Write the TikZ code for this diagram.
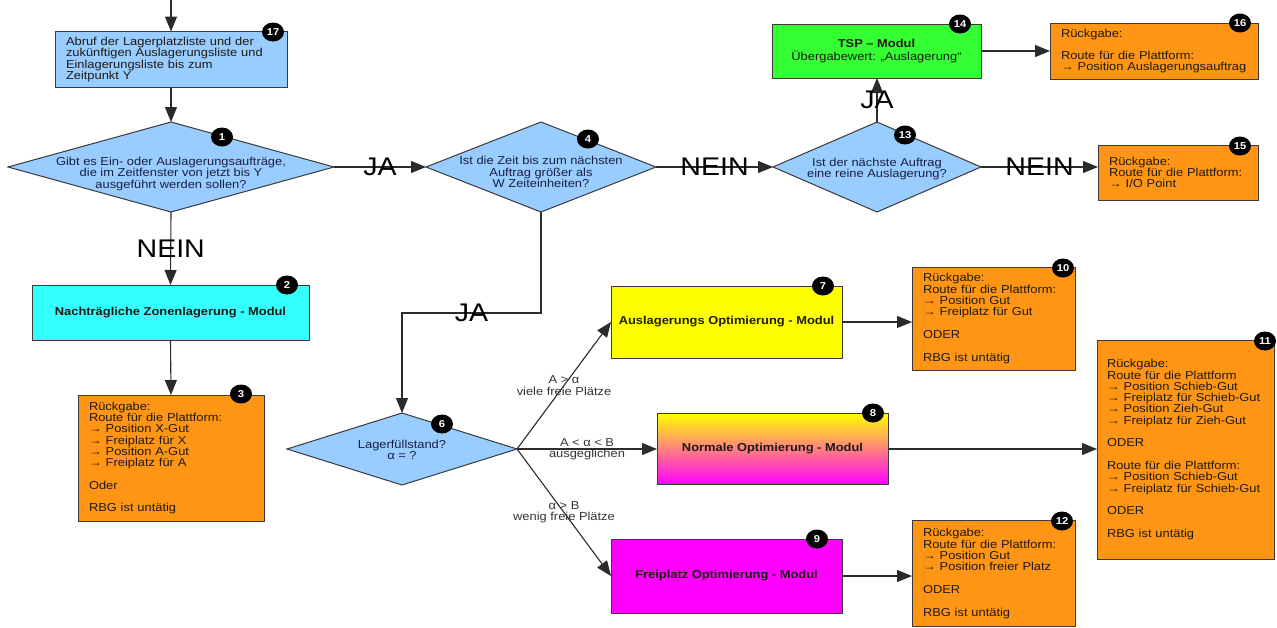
\documentclass[tikz,border=0pt]{standalone}
\usepackage{fontspec}
\setmainfont{Liberation Sans}[FakeStretch=1.12]
\usetikzlibrary{shapes.geometric,arrows.meta,calc}
\lineskiplimit=-100pt
\definecolor{lblue}{HTML}{99CCFF}
\definecolor{orng}{HTML}{FF9514}
\definecolor{grn}{HTML}{33FF33}
\definecolor{cyn}{HTML}{33FFFF}
\definecolor{ylw}{HTML}{FFFF00}
\definecolor{mag}{HTML}{FF00FF}
\definecolor{bordc}{HTML}{3A3A3A}
\definecolor{linec}{HTML}{2B2B2B}
\definecolor{txtc}{HTML}{1E1A14}
\definecolor{navy}{HTML}{1A1F45}
\definecolor{lblc}{HTML}{333333}
\newcommand\smtxt{\fontsize{11.5}{11.3}\selectfont}
\newcommand\bgtxt{\fontsize{25.5}{28}\selectfont}
\newcommand\blankln{\\[11.3pt]}
\tikzset{
  box/.style={draw=bordc, line width=1pt, inner ysep=0pt, inner xsep=11pt, outer sep=0pt,
    align=left, font=\smtxt, text=txtc},
  modbox/.style={draw=bordc, line width=1pt, inner sep=0pt, outer sep=0pt,
    align=center, font=\smtxt\bfseries, text=txtc},
  dia/.style={diamond, draw=bordc, line width=1pt, fill=lblue, inner sep=0pt, outer sep=0pt},
  dtext/.style={align=center, font=\smtxt, text=navy, inner sep=0pt},
  badge/.style={ellipse, fill=black, minimum width=22pt, minimum height=19pt, inner sep=0pt,
    text=white, font=\fontsize{10}{10}\selectfont\bfseries},
  arr/.style={draw=linec, line width=1.1pt, -{Triangle[length=15pt,width=12pt]}},
  big/.style={font=\bgtxt, text=black, inner sep=0pt},
  elbl/.style={font=\smtxt, text=lblc, align=center, inner sep=0pt},
}
\begin{document}
\begin{tikzpicture}[x=1pt,y=-1pt]
\useasboundingbox (0,0) rectangle (1277,627);
\fill[white] (0,0) rectangle (1277,627);

% boxes
\node[box, fill=lblue, minimum height=56, text width=210] (b17) at (171,59.5)
  {Abruf der Lagerplatzliste und der\\ zukünftigen Auslagerungsliste und\\ Einlagerungsliste bis zum\\ Zeitpunkt Y};
\node[modbox, fill=cyn, minimum width=277, minimum height=55] (b2) at (170.5,312.5)
  {Nachträgliche Zonenlagerung - Modul};
\node[box, fill=orng, minimum height=126, text width=164] (b3) at (171,458)
  {Rückgabe:\\ Route für die Plattform:\\ → Position X-Gut\\ → Freiplatz für X\\ → Position A-Gut\\ → Freiplatz für A\blankln Oder\blankln RBG ist untätig};
\node[modbox, fill=grn, minimum width=209, minimum height=54, font=\smtxt] (b14) at (876.5,51)
  {\textbf{TSP – Modul}\\[2pt] Übergabewert: „Auslagerung“};
\node[box, fill=orng, minimum height=56, text width=186] (b16) at (1154,51)
  {Rückgabe:\blankln Route für die Plattform:\\ → Position Auslagerungsauftrag};
\node[box, fill=orng, minimum height=55, text width=138] (b15) at (1178,172.5)
  {Rückgabe:\\ Route für die Plattform:\\ → I/O Point};
\node[modbox, fill=ylw, minimum width=231, minimum height=72] (b7) at (726.5,322)
  {Auslagerungs Optimierung - Modul};
\node[modbox, top color=ylw, bottom color=mag, minimum width=231, minimum height=71] (b8) at (772.5,449)
  {Normale Optimierung - Modul};
\node[modbox, fill=mag, minimum width=231, minimum height=74] (b9) at (726.5,576)
  {Freiplatz Optimierung - Modul};
\node[box, fill=orng, minimum height=103, text width=141] (b10) at (993.5,318.5)
  {Rückgabe:\\ Route für die Plattform:\\ → Position Gut\\ → Freiplatz für Gut\blankln ODER\blankln RBG ist untätig};
\node[box, fill=orng, minimum height=219, text width=157, inner xsep=10pt] (b11) at (1185.5,449.5)
  {Rückgabe:\\ Route für die Plattform\\ → Position Schieb-Gut\\ → Freiplatz für Schieb-Gut\\ → Position Zieh-Gut\\ → Freiplatz für Zieh-Gut\blankln ODER\blankln Route für die Plattform:\\ → Position Schieb-Gut\\ → Freiplatz für Schieb-Gut\blankln ODER\blankln RBG ist untätig};
\node[box, fill=orng, minimum height=106, text width=141] (b12) at (993.5,573.5)
  {Rückgabe:\\ Route für die Plattform:\\ → Position Gut\\ → Position freier Platz\blankln ODER\blankln RBG ist untätig};

% diamonds
\node[dia, minimum width=326, minimum height=90] (d1) at (171,167) {};
\node[dtext] (d1t) at (171,174) {Gibt es Ein- oder Auslagerungsaufträge,\\ die im Zeitfenster von jetzt bis Y\\ ausgeführt werden sollen?};
\node[dia, minimum width=230, minimum height=90] (d4) at (541,167) {};
\node[dtext] (d4t) at (541,172) {Ist die Zeit bis zum nächsten\\ Auftrag größer als\\ W Zeiteinheiten?};
\node[dia, minimum width=208, minimum height=90] (d13) at (877,167) {};
\node[dtext] (d13t) at (877,169) {Ist der nächste Auftrag\\ eine reine Auslagerung?};
\node[dia, minimum width=230, minimum height=72] (d6) at (402,449) {};
\node[dtext] (d6t) at (402,450) {Lagerfüllstand?\\ α = ?};

% badges
\node[badge] (n17) at (273,32) {17};
\node[badge] (n1) at (222,137) {1};
\node[badge] (n4) at (588,139) {4};
\node[badge] (n13) at (905,135) {13};
\node[badge] (n14) at (960,24) {14};
\node[badge] (n16) at (1240,23) {16};
\node[badge] (n15) at (1240,146) {15};
\node[badge] (n2) at (287,285) {2};
\node[badge] (n3) at (241,394) {3};
\node[badge] (n6) at (442,424) {6};
\node[badge] (n7) at (823,286) {7};
\node[badge] (n8) at (873,413) {8};
\node[badge] (n9) at (817,539) {9};
\node[badge] (n10) at (1063,268) {10};
\node[badge] (n11) at (1265,341) {11};
\node[badge] (n12) at (1062,521) {12};

% connectors
\coordinate (top) at (171,0);
\draw[arr] (top) -- (b17.north);
\draw[arr] (b17.south) -- (d1.north);
\draw[arr] (d1.east) -- node[big]{JA} (d4.west);
\draw[arr] (d4.east) -- node[big]{NEIN} (d13.west);
\draw[arr] (d13.north) -- node[big]{JA} (d13.north |- b14.south);
\draw[arr] (b14.east) -- (b14.east -| b16.west);
\draw[arr] (d13.east) -- node[big]{NEIN} (d13.east -| b15.west);
\draw[arr] (d1.south) -- node[big]{NEIN} (b2.north);
\draw[arr] (b2.south) -- (b3.north);
\coordinate (k1) at (541,313);
\coordinate (k2) at (402,313);
\draw[arr] (d4.south) -- (k1) -- node[big]{JA} (k2) -- (d6.north);
\draw[arr] (d6.east) -- node[elbl]{A > α\\ viele freie Plätze} (b7.west);
\draw[arr] (d6.east) -- node[elbl]{A < α < B\\ ausgeglichen} (b8.west);
\draw[arr] (d6.east) -- node[elbl]{α > B\\ wenig freie Plätze} (b9.west);
\draw[arr] (b7.east) -- (b7.east -| b10.west);
\draw[arr] (b8.east) -- (b8.east -| b11.west);
\draw[arr] (b9.east) -- (b9.east -| b12.west);
\end{tikzpicture}
\end{document}
